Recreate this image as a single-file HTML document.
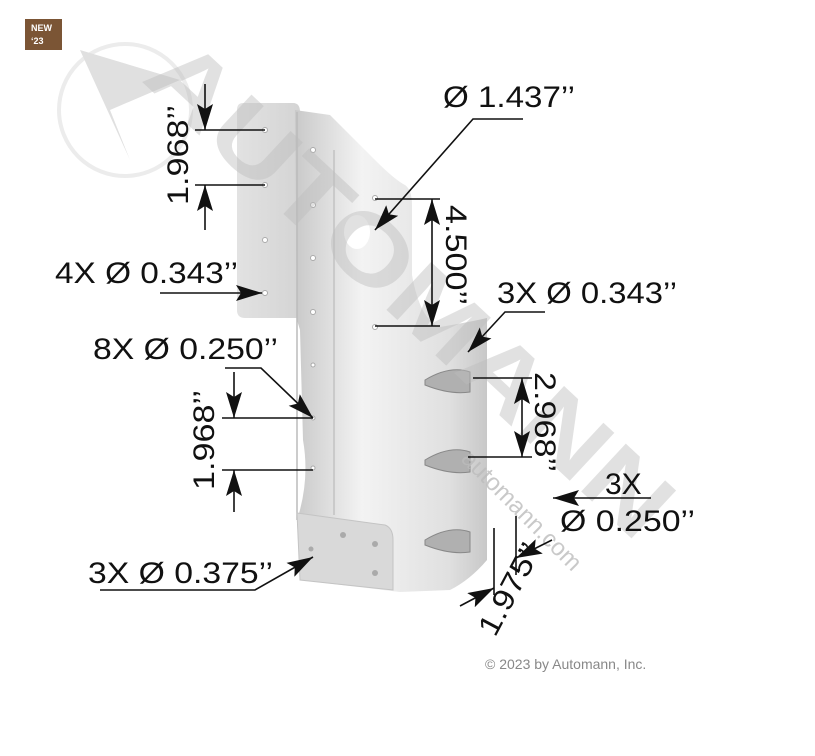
<!DOCTYPE html>
<html><head><meta charset="utf-8"><style>
html,body{margin:0;padding:0;background:#fff;}
svg{display:block;}
text{font-family:"Liberation Sans",sans-serif;}
</style></head><body>
<svg width="815" height="756" viewBox="0 0 815 756" xmlns="http://www.w3.org/2000/svg">
<defs>
<marker id="ah" viewBox="0 0 26 16" refX="26" refY="8" markerWidth="26" markerHeight="16" markerUnits="userSpaceOnUse" orient="auto">
<path d="M0,0 L26,8 L0,16 L5,8 Z" fill="#111"/></marker>
<linearGradient id="bg1" x1="0" x2="1"><stop offset="0" stop-color="#e2e2e2"/><stop offset="1" stop-color="#d4d4d4"/></linearGradient>
<linearGradient id="bg2" x1="0" x2="1"><stop offset="0" stop-color="#c9c9c9"/><stop offset="0.35" stop-color="#f3f3f3"/><stop offset="0.8" stop-color="#e0e0e0"/><stop offset="1" stop-color="#c8c8c8"/></linearGradient>
</defs>
<rect width="815" height="756" fill="#fff"/>
<rect x="25" y="19" width="37" height="31" fill="#7b5535"/>
<text x="31" y="31" font-size="9" font-weight="bold" fill="#fff">NEW</text>
<text x="31" y="44" font-size="9" font-weight="bold" fill="#fff">‘23</text>
<circle cx="125" cy="110" r="66" fill="none" stroke="#ececec" stroke-width="4"/>
<path d="M80,50 L180,80 L110,110 L130,160 Z" fill="#e0e0e0"/>

<path d="M243,103 L293,103 Q300,103 300,112 L300,318 L245,318 Q237,318 237,310 L237,110 Q237,103 243,103 Z" fill="url(#bg1)"/>
<path d="M295,110 L330,115 L375,160 Q395,180 405,185 Q412,190 412,205 L412,275 Q420,320 440,327 Q470,322 487,318 L487,560 Q470,580 450,590 L400,592 L300,580 L297,520 Q310,480 303,440 L300,330 L297,320 Z" fill="url(#bg2)"/>
<line x1="297" y1="112" x2="297" y2="520" stroke="#bbb" stroke-width="1.5"/>
<line x1="334" y1="150" x2="334" y2="515" stroke="#c2c2c2" stroke-width="1.5"/>
<path d="M297,513 L385,525 Q393,528 393,540 L393,590 L300,580 Z" fill="#d9d9d9" stroke="#c4c4c4"/>
<circle cx="343" cy="535" r="3" fill="#aaa"/><circle cx="375" cy="544" r="3" fill="#aaa"/><circle cx="375" cy="573" r="3" fill="#aaa"/><circle cx="311" cy="549" r="2.5" fill="#aaa"/>
<ellipse cx="357" cy="232" rx="13" ry="17" fill="#fff"/>
<g fill="#b0b0b0" stroke="#888">
<path d="M425,380 Q450,365 470,372 L470,392 Q450,395 425,385 Z"/>
<path d="M425,460 Q450,445 470,452 L470,472 Q450,475 425,465 Z"/>
<path d="M425,540 Q450,525 470,532 L470,552 Q450,555 425,545 Z"/>
</g>
<g fill="#fff" stroke="#aaa">
<circle cx="265" cy="130" r="2.5"/><circle cx="265" cy="185" r="2.5"/><circle cx="265" cy="240" r="2.5"/><circle cx="265" cy="293" r="2.5"/>
<circle cx="313" cy="150" r="2.5"/><circle cx="313" cy="205" r="2.5"/><circle cx="313" cy="258" r="2.5"/><circle cx="313" cy="312" r="2.5"/><circle cx="313" cy="365" r="2"/><circle cx="313" cy="418" r="2"/><circle cx="313" cy="468" r="2"/>
<circle cx="375" cy="198" r="2.5"/><circle cx="375" cy="327" r="2.5"/>
</g>

<text x="0" y="0" font-size="95" font-weight="bold" fill="#bdbdbd" fill-opacity="0.45" transform="translate(140,80) rotate(43)" textLength="680" lengthAdjust="spacingAndGlyphs">AUTOMANN</text>
<text x="0" y="0" font-size="24" fill="#bbb" fill-opacity="0.8" transform="translate(460,460) rotate(45)">automann.com</text>

<g stroke="#111" stroke-width="1.6" fill="none">
<line x1="195" y1="130" x2="265" y2="130"/><line x1="195" y1="185" x2="265" y2="185"/>
<line x1="205" y1="84" x2="205" y2="130" marker-end="url(#ah)"/>
<line x1="205" y1="230" x2="205" y2="185" marker-end="url(#ah)"/>
<line x1="160" y1="293" x2="262" y2="293" marker-end="url(#ah)"/>
<polyline points="523,119 473,119 375,230" marker-end="url(#ah)"/>
<line x1="375" y1="199" x2="440" y2="199"/><line x1="375" y1="326" x2="440" y2="326"/>
<line x1="432" y1="262" x2="432" y2="199" marker-end="url(#ah)"/>
<line x1="432" y1="262" x2="432" y2="326" marker-end="url(#ah)"/>
<polyline points="545,312 505,312 468,352" marker-end="url(#ah)"/>
<polyline points="225,368 261,368 313,418" marker-end="url(#ah)"/>
<line x1="222" y1="418" x2="313" y2="418"/><line x1="222" y1="470" x2="313" y2="470"/>
<line x1="234" y1="372" x2="234" y2="418" marker-end="url(#ah)"/>
<line x1="234" y1="512" x2="234" y2="470" marker-end="url(#ah)"/>
<line x1="473" y1="378" x2="532" y2="378"/><line x1="468" y1="457" x2="532" y2="457"/>
<line x1="522" y1="418" x2="522" y2="378" marker-end="url(#ah)"/>
<line x1="522" y1="418" x2="522" y2="457" marker-end="url(#ah)"/>
<line x1="651" y1="498" x2="553" y2="498" marker-end="url(#ah)"/>
<line x1="494" y1="528" x2="494" y2="595"/><line x1="516" y1="516" x2="516" y2="575"/>
<line x1="460" y1="606" x2="494" y2="588" marker-end="url(#ah)"/>
<line x1="552" y1="540" x2="516" y2="558" marker-end="url(#ah)"/>
<polyline points="100,590 255,590 313,557" marker-end="url(#ah)"/>
</g>

<g font-size="30" fill="#111">
<text x="443" y="107" textLength="132" lengthAdjust="spacingAndGlyphs">Ø 1.437’’</text>
<text x="55" y="283" textLength="183" lengthAdjust="spacingAndGlyphs">4X Ø 0.343’’</text>
<text x="497" y="303" textLength="180" lengthAdjust="spacingAndGlyphs">3X Ø 0.343’’</text>
<text x="93" y="359" textLength="185" lengthAdjust="spacingAndGlyphs">8X Ø 0.250’’</text>
<text x="605" y="494">3X</text>
<text x="560" y="531" textLength="135" lengthAdjust="spacingAndGlyphs">Ø 0.250’’</text>
<text x="88" y="583" textLength="185" lengthAdjust="spacingAndGlyphs">3X Ø 0.375’’</text>
<text transform="translate(188,205) rotate(-90)" textLength="100" lengthAdjust="spacingAndGlyphs">1.968’’</text>
<text transform="translate(214,490) rotate(-90)" textLength="100" lengthAdjust="spacingAndGlyphs">1.968’’</text>
<text transform="translate(446,205) rotate(90)" textLength="100" lengthAdjust="spacingAndGlyphs">4.500’’</text>
<text transform="translate(535,372) rotate(90)" textLength="100" lengthAdjust="spacingAndGlyphs">2.968’’</text>
<text transform="translate(495,638) rotate(-62)" textLength="100" lengthAdjust="spacingAndGlyphs">1.975’’</text>
</g>
<text x="485" y="669" font-size="14" fill="#888">© 2023 by Automann, Inc.</text>
</svg>
</body></html>
